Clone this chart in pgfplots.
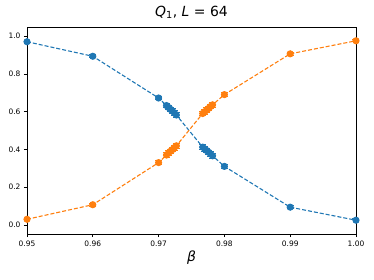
\documentclass[border=0pt]{standalone}
\usepackage{pgfplots}
\pgfplotsset{compat=1.18}
\usepackage{fontspec}
\setmainfont{DejaVu Sans}
\definecolor{tabblue}{HTML}{1F77B4}
\definecolor{taborange}{HTML}{FF7F0E}
\pgfplotstableread{
b q e
0.95 0.970 0.008
0.96 0.893 0.008
0.97 0.672 0.010
0.9712 0.632 0.012
0.9715 0.622 0.012
0.9718 0.612 0.012
0.9721 0.603 0.012
0.9724 0.593 0.012
0.9727 0.582 0.012
0.9767 0.412 0.012
0.9770 0.403 0.012
0.9773 0.394 0.012
0.9776 0.385 0.012
0.9779 0.376 0.012
0.9782 0.366 0.012
0.98 0.310 0.010
0.99 0.094 0.008
1.00 0.025 0.008
}\blue
\pgfplotstableread{
b q e
0.95 0.030 0.008
0.96 0.107 0.008
0.97 0.330 0.010
0.9712 0.370 0.012
0.9715 0.380 0.012
0.9718 0.390 0.012
0.9721 0.399 0.012
0.9724 0.409 0.012
0.9727 0.419 0.012
0.9767 0.590 0.012
0.9770 0.599 0.012
0.9773 0.608 0.012
0.9776 0.617 0.012
0.9779 0.627 0.012
0.9782 0.636 0.012
0.98 0.690 0.010
0.99 0.906 0.008
1.00 0.975 0.008
}\orange
\begin{document}
\begin{tikzpicture}
\useasboundingbox (-27bp,-46bp) rectangle (347bp,234bp);
\begin{axis}[
  scale only axis,
  width=329bp, height=207bp,
  xmin=0.95, xmax=1.00,
  ymin=-0.048, ymax=1.048,
  xtick={0.95,0.96,0.97,0.98,0.99,1.00},
  xticklabels={0.95,0.96,0.97,0.98,0.99,1.00},
  ytick={0,0.2,0.4,0.6,0.8,1.0},
  yticklabels={0.0,0.2,0.4,0.6,0.8,1.0},
  tick align=outside,
  tick pos=left,
  major tick length=3bp,
  tick style={black, line width=0.6bp},
  ticklabel style={font=\fontsize{7.5}{8}\selectfont},
  axis line style={line width=0.6bp},
  xlabel={\textit{β}},
  xlabel style={font=\fontsize{14}{15}\selectfont, yshift=2bp},
  title={\textit{Q}\textsubscript{1}, \textit{L} = 64},
  title style={font=\fontsize{14}{16}\selectfont, yshift=-1bp},
]
\addplot[tabblue, dash pattern=on 4bp off 2bp, line width=1.1bp, mark=*, mark size=3bp,
  mark options={solid},
  error bars/.cd, y dir=both, y explicit, error mark options={rotate=90, mark size=3.5bp, line width=0.9bp, tabblue}, error bar style={solid, line width=0.9bp}]
  table[x=b, y=q, y error=e] {\blue};
\addplot[taborange, dash pattern=on 4bp off 2bp, line width=1.1bp, mark=*, mark size=3bp,
  mark options={solid},
  error bars/.cd, y dir=both, y explicit, error mark options={rotate=90, mark size=3.5bp, line width=0.9bp, taborange}, error bar style={solid, line width=0.9bp}]
  table[x=b, y=q, y error=e] {\orange};
\end{axis}
\end{tikzpicture}
\end{document}
